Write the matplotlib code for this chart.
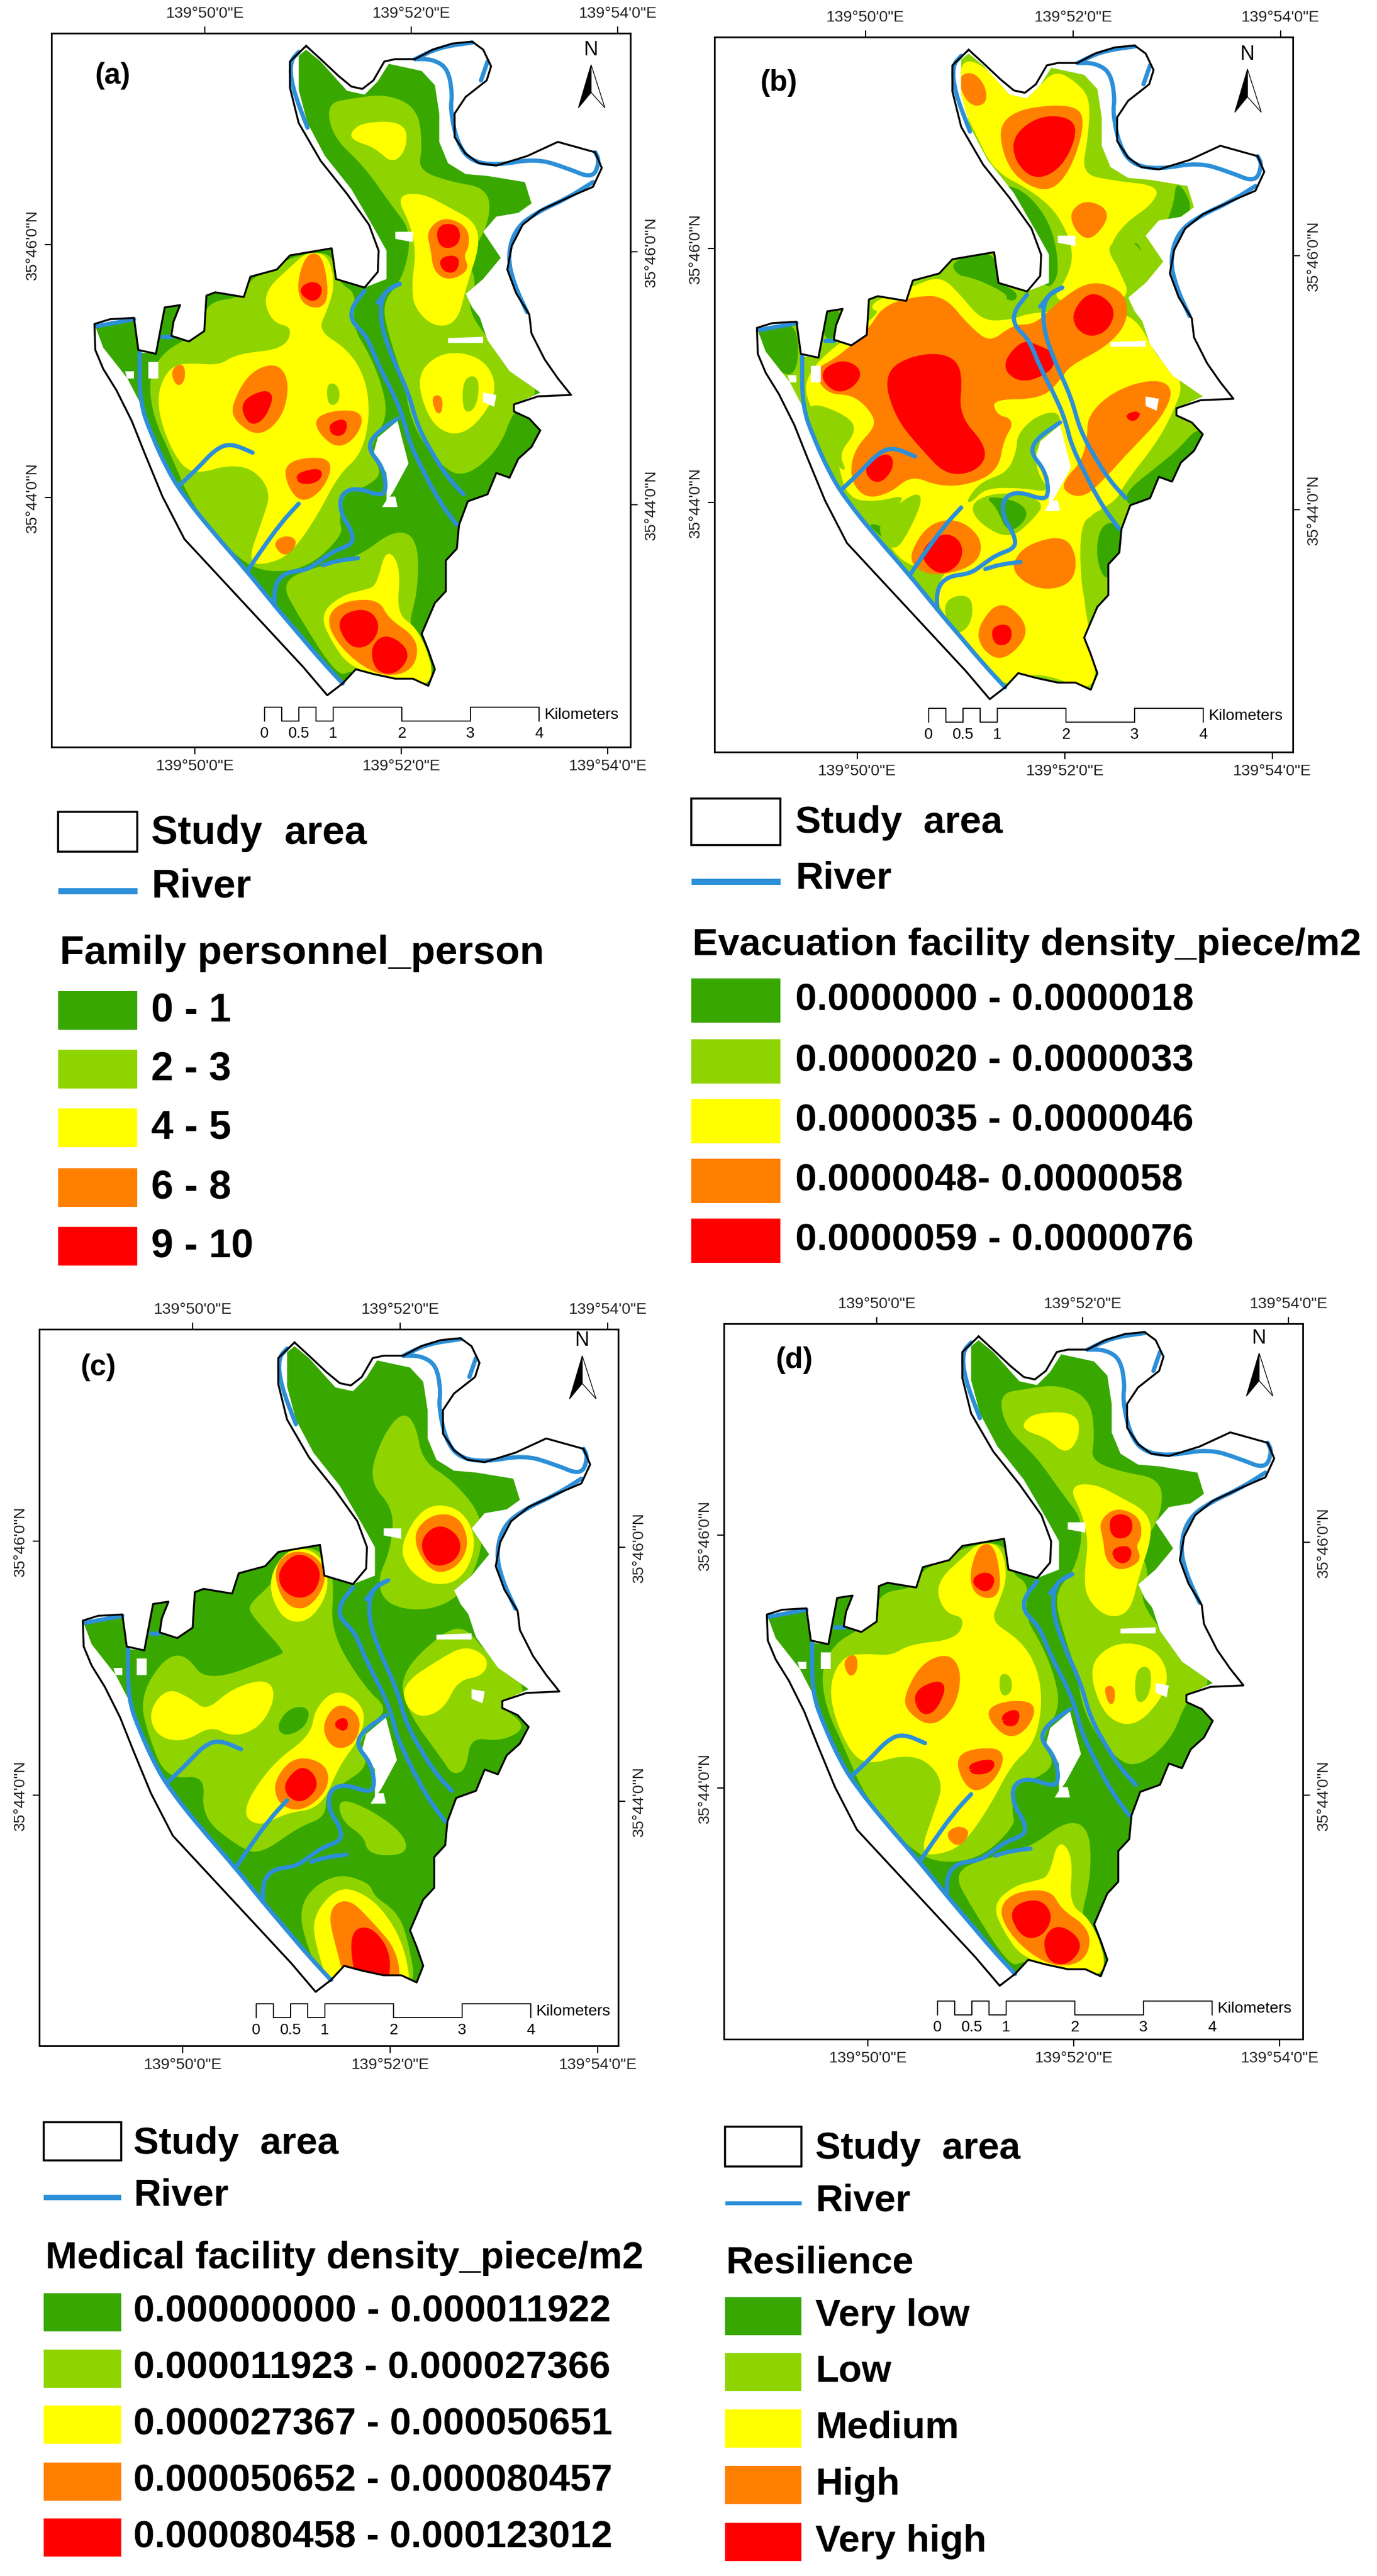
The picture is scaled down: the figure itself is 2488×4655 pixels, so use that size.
import matplotlib
matplotlib.use('Agg')
import matplotlib.pyplot as plt
from matplotlib.patches import Polygon, Rectangle, PathPatch
from matplotlib.path import Path

plt.rcParams['font.family'] = ['Liberation Sans', 'DejaVu Sans']

W, H = 2488, 4655
DPI = 100

C_VLOW = '#38A800'
C_LOW = '#8FD400'
C_MED = '#FFFF00'
C_HIGH = '#FF8000'
C_VHIGH = '#FF0000'
C_RIVER = '#2C8FD8'
CLASS_COLOURS = [C_VLOW, C_LOW, C_MED, C_HIGH, C_VHIGH]
# curves sit inside their traced corners, so the hotter classes get a thicker edge
EDGE_LW = {C_VLOW: 2, C_LOW: 2, C_MED: 3, C_HIGH: 5, C_VHIGH: 8}

LON_TICKS = [50, 52, 54]
LAT_TICKS = [44, 46]
LON_LABELS = ['139°50\'0"E', '139°52\'0"E', '139°54\'0"E']
LAT_LABELS = ['35°44\'0"N', '35°46\'0"N']

SCALE_KM = [0, 0.25, 0.5, 0.75, 1, 2, 3, 4]
SCALE_LABELS = [(0, '0'), (0.5, '0.5'), (1, '1'), (2, '2'), (3, '3'), (4, '4')]

# study area outline, traced on panel (a)
OUTLINE = [(697,97),(730,125),(770,160),(800,183),(825,188),(850,170),(875,130),(900,125),(945,125),(985,105),(1030,92),
           (1075,88),(1100,105),(1118,140),(1108,170),(1060,205),(1035,240),(1035,290),(1060,325),(1090,345),(1130,350),
           (1200,330),(1270,300),(1355,322),(1370,355),(1350,395),(1300,415),(1230,445),(1190,475),(1165,520),(1155,570),
           (1175,620),(1205,665),(1210,705),(1240,760),(1270,800),(1300,835),(1225,838),(1170,855),(1170,870),(1205,885),
           (1230,910),(1210,945),(1180,970),(1160,1010),(1130,1000),(1110,1045),(1065,1060),(1045,1110),(1040,1160),
           (1015,1185),(1015,1250),(990,1275),(960,1340),(975,1375),(990,1415),(975,1450),(940,1435),(900,1435),(850,1425),
           (810,1415),(780,1445),(745,1470),(690,1410),(620,1340),(560,1280),(490,1210),(420,1140),(370,1050),(330,960),
           (300,890),(265,825),(235,780),(217,740),(215,685),(250,675),(305,672),(315,740),(355,748),(375,650),(410,645),
           (395,680),(390,710),(430,722),(465,700),(470,625),(490,618),(555,628),(570,585),(630,570),(660,540),(755,525),
           (765,590),(830,608),(860,575),(862,530),(840,475),(790,410),(730,340),(680,260),(660,185),(660,130),(697,97)]

# part of the area that has raster cover
LAND = [(680,118),(697,105),(730,130),(790,192),(830,200),(860,172),(885,135),(960,150),(990,180),(1000,240),(1000,300),
        (1020,345),(1060,368),(1110,372),(1195,385),(1210,430),(1180,450),(1130,458),(1100,490),(1140,545),(1100,590),
        (1062,620),(1085,650),(1110,720),(1160,785),(1230,830),(1170,855),(1170,870),(1205,885),(1230,910),(1210,945),
        (1180,970),(1160,1010),(1130,1000),(1110,1045),(1065,1060),(1045,1110),(1040,1160),(1015,1185),(1015,1250),
        (990,1275),(960,1340),(975,1375),(990,1415),(975,1450),(940,1435),(900,1435),(850,1425),(810,1415),(780,1445),
        (730,1390),(680,1335),(625,1275),(560,1205),(480,1120),(420,1050),(385,1000),(345,920),(318,850),(290,800),
        (235,735),(217,690),(305,672),(315,745),(355,748),(375,650),(410,645),(395,680),(390,710),(430,722),(465,700),
        (470,625),(490,618),(555,628),(570,585),(630,570),(660,540),(755,525),(765,590),(830,608),(880,590),(880,530),
        (850,480),(800,400),(740,330),(700,260),(680,190)]

HOLES = [[(860,925),(905,890),(930,980),(895,1040),(880,1060),(880,1000),(850,960)],
         [(900,490),(940,490),(940,512),(900,505)],
         [(338,765),(360,765),(360,800),(338,800)],
         [(1020,715),(1100,712),(1100,725),(1020,725)],
         [(1060,620),(1090,620),(1100,680),(1075,650)],
         [(1100,830),(1130,835),(1125,860),(1100,850)],
         [(285,785),(305,785),(305,800),(290,800)],
         [(885,1050),(900,1050),(905,1072),(870,1072)]]

RIVERS = [[(318,745),(318,850),(345,920),(385,1000),(420,1050),(480,1120),(560,1205),(625,1280),(680,1340),(730,1395),(780,1445)],
          [(410,1025),(450,990),(490,950),(525,937),(575,957)],
          [(565,1205),(590,1170),(640,1105),(680,1065)],
          [(625,1280),(625,1235),(650,1210),(700,1205),(730,1185),(760,1165),(805,1150),(800,1120),(775,1085),(775,1045),(810,1030),(870,1050),(880,1030),(870,985),(838,950),(850,920),(905,885)],
          [(735,1195),(770,1185),(815,1180)],
          [(830,615),(800,650),(800,680),(835,710),(860,770),(900,840),(920,890),(930,930),(960,990),(1000,1060),(1040,1110)],
          [(910,600),(870,620),(865,680),(890,750),(930,830),(950,900),(985,960),(1020,1010),(1055,1045)],
          [(860,640),(885,610),(910,600)],
          [(680,110),(660,130),(665,185),(700,270)],
          [(945,125),(985,125),(1020,145),(1030,200),(1025,230),(1040,300),(1070,340),(1130,350),(1220,335),(1290,355),(1350,378),(1365,340),(1355,322)],
          [(945,125),(1000,100),(1075,90)],
          [(1110,130),(1095,170)],
          [(1350,385),(1290,420),(1230,445),(1175,480),(1155,540),(1170,600),(1200,660)],
          [(218,690),(305,675)],
          [(370,712),(390,712)]]

# family personnel classes, also close to the resilience map
A_LOW = [[(745,220),(800,210),(880,200),(950,230),(960,310),(950,360),(1020,385),(1115,400),(1110,480),(1060,545),(1085,600),(1060,650),(1110,720),(1180,790),(1230,830),(1170,860),(1135,950),(1055,1010),(1000,980),(940,900),(920,800),(890,720),(870,640),(920,590),(940,490),(890,430),(830,350),(760,290)],
         [(340,800),(370,750),(410,725),(465,700),(470,640),(555,630),(570,590),(630,570),(660,545),(755,530),(770,600),(810,620),(800,690),(840,750),(870,820),(880,880),(850,930),(840,960),(870,1000),(830,1030),(780,1040),(770,1100),(780,1130),(700,1200),(600,1210),(530,1170),(440,1070),(390,960),(350,880)],
         [(640,1230),(720,1200),(815,1180),(900,1120),(950,1140),(950,1250),(925,1330),(970,1380),(985,1415),(960,1450),(860,1425),(800,1415),(770,1430),(680,1300)]]
A_MED = [[(800,280),(830,260),(920,260),(925,310),(895,345),(855,310),(805,295)],
         [(905,415),(960,410),(1020,440),(1080,470),(1090,520),(1060,600),(1040,680),(990,690),(945,650),(940,600),(950,530),(935,470)],
         [(950,800),(990,755),(1050,745),(1110,770),(1130,830),(1080,900),(1030,920),(980,890)],
         [(360,830),(390,775),(440,770),(500,775),(540,750),(650,740),(670,690),(620,680),(600,620),(670,560),(700,535),(745,540),(760,600),(745,650),(720,700),(790,740),(830,800),(840,880),(820,960),(770,1000),(720,1090),(660,1170),(610,1190),(565,1190),(600,1100),(620,1040),(580,990),(520,980),(450,1000),(410,980),(370,900)],
         [(830,1250),(860,1240),(880,1160),(910,1200),(900,1300),(950,1330),(985,1415),(970,1450),(900,1435),(800,1410),(760,1360),(730,1300),(780,1260)]]
A_LOW_TOP = [[(745,810),(770,815),(772,850),(748,858)],
             [(1055,800),(1090,795),(1085,860),(1055,875)]]
A_HIGH = [[(680,600),(700,540),(730,540),(745,620),(730,650),(690,640)],
          [(530,860),(570,790),(630,770),(655,810),(640,880),(590,920),(540,890)],
          [(720,885),(770,870),(825,875),(810,920),(770,945),(730,915)],
          [(650,985),(700,970),(755,975),(735,1030),(690,1060),(660,1030)],
          [(392,785),(415,770),(418,800),(405,815)],
          [(625,1150),(650,1135),(675,1145),(650,1175)],
          [(745,1310),(780,1275),(860,1270),(880,1310),(945,1350),(945,1400),(910,1425),(850,1420),(780,1370)],
          [(975,490),(1010,462),(1060,480),(1065,520),(1050,540),(1065,570),(1020,590),(990,570),(985,525)],
          [(985,840),(1005,840),(1000,880)]]
A_VHIGH = [[(685,615),(710,600),(730,610),(715,635)],
           [(552,850),(620,825),(600,880),(570,895)],
           [(755,900),(785,890),(780,915),(760,915)],
           [(680,1005),(730,995),(720,1015),(685,1018)],
           [(770,1310),(830,1290),(860,1320),(840,1360),(800,1365)],
           [(850,1370),(880,1345),(930,1380),(900,1420),(860,1415)],
           [(1000,480),(1040,480),(1040,515),(1005,520)],
           [(1005,550),(1040,545),(1035,570),(1015,570)]]

# evacuation facility classes, traced on panel (b)
B_VLOW = [[(225,690),(305,680),(315,745),(305,790),(280,790),(235,750)],
          [(370,660),(410,655),(395,715),(370,715)],
          [(640,565),(680,540),(740,535),(750,600),(790,620),(780,640),(700,600)],
          [(1040,500),(1070,555),(1085,590),(1030,570)],
          [(1135,380),(1170,440),(1140,470),(1110,480),(1130,430)],
          [(740,390),(800,400),(860,470),(880,570),(860,610),(840,590),(830,500)],
          [(1180,905),(1190,930),(1130,1010),(1080,1060),(1030,1070),(1025,1040),(1090,990),(1140,950)],
          [(970,1110),(1010,1105),(1015,1165),(985,1235),(960,1180)],
          [(465,1105),(510,1120),(520,1150),(490,1130)],
          [(720,1050),(790,1060),(815,1090),(770,1130),(745,1070)]]
B_MED = [[(665,135),(700,130),(770,190),(830,195),(870,150),(915,175),(945,210),(940,290),(925,370),(1000,385),(1095,395),(1080,430),(1020,470),(985,520),(1000,560),(1040,640),(860,640),(900,590),(915,530),(880,450),(820,400),(740,360),(700,280),(670,220)],
         [(340,790),(380,745),(500,660),(470,650),(500,630),(560,610),(620,585),(660,620),(710,680),(770,680),(830,660),(1000,660),(1050,680),(1090,760),(1150,805),(1120,880),(1085,940),(1020,1020),(1000,1060),(920,1100),(930,1280),(960,1410),(945,1460),(860,1425),(800,1425),(760,1450),(720,1400),(620,1290),(615,1230),(680,1170),(560,1210),(490,1120),(560,1040),(480,1060),(420,1050),(400,960),(360,890),(330,830)]]
B_LOW = [[(340,850),(420,880),(440,910),(400,960),(420,1000),(385,970),(340,890)],
         [(480,1110),(560,1045),(585,1050),(555,1120),(520,1170)],
         [(790,920),(830,880),(880,870),(880,910),(825,945),(830,1000),(860,1040),(800,1030),(720,1030),(690,1060),(680,1060),(710,1020),(770,1000),(790,950)],
         [(690,1060),(760,1040),(850,1060),(820,1100),(770,1140),(700,1100)],
         [(925,1100),(970,1090),(1010,1105),(985,1235),(960,1290),(930,1270)],
         [(625,1270),(690,1255),(690,1320),(650,1345)],
         [(640,580),(700,590),(780,630),(730,640),(680,600),(640,590)],
         [(1000,510),(1030,500),(1090,570),(1080,600),(1020,580),(985,530)]]
B_VLOW_TOP = [[(720,1050),(790,1060),(815,1090),(770,1130),(745,1070)],
              [(970,1110),(1010,1105),(1015,1165),(985,1235),(960,1180)]]
B_HIGH = [[(665,165),(690,155),(715,180),(720,215),(695,222),(675,200)],
          [(755,260),(810,230),(920,225),(930,270),(900,360),(855,405),(790,375),(760,320)],
          [(905,450),(940,425),(990,450),(950,505),(920,490)],
          [(350,785),(400,760),(470,700),(500,650),(570,630),(630,630),(680,690),(730,730),(780,690),(830,690),(880,640),(950,595),(1020,620),(1025,680),(980,730),(900,770),(880,800),(840,840),(730,840),(740,880),(780,890),(755,930),(745,990),(690,1020),(620,1025),(560,1000),(510,1040),(460,1050),(430,1010),(440,950),(490,900),(470,860),(430,830),(380,830)],
          [(945,880),(1000,830),(1080,805),(1125,820),(1100,880),(1030,950),(975,1010),(930,1050),(890,1035),(900,1010),(930,980),(945,930)],
          [(560,1170),(600,1110),(660,1100),(710,1140),(700,1190),(620,1215),(570,1200)],
          [(780,1195),(810,1155),(890,1135),(915,1180),(905,1230),(850,1245),(800,1225)],
          [(705,1330),(750,1272),(800,1310),(805,1350),(755,1395),(715,1370)]]
B_VHIGH = [[(785,290),(840,250),(905,255),(910,290),(880,350),(830,375),(790,340)],
           [(365,790),(410,765),(448,785),(430,815),(395,825)],
           [(505,790),(570,755),(640,755),(665,790),(655,880),(720,950),(700,990),(640,1000),(590,950),(530,880)],
           [(760,775),(800,725),(830,735),(865,750),(860,780),(800,805)],
           [(915,660),(950,620),(995,650),(985,690),(950,708),(920,690)],
           [(460,990),(510,960),(515,990),(485,1020)],
           [(580,1170),(630,1130),(665,1150),(660,1190),(620,1212)],
           [(738,1330),(770,1325),(770,1355),(745,1360)],
           [(1030,880),(1050,875),(1040,885)]]

# medical facility classes, traced on panel (c)
C_LOW_Z = [[(915,365),(945,390),(960,470),(1030,510),(1100,590),(1090,680),(1040,760),(960,785),(880,770),(860,720),(890,660),(900,570),(840,510),(870,420)],
           [(910,920),(1010,830),(1060,820),(1110,880),(1160,910),(1200,960),(1140,990),(1200,1030),(1140,1060),(1070,1050),(1060,1120),(1030,1130),(1010,1100),(930,1000)],
           [(570,770),(620,730),(680,650),(735,660),(760,720),(750,830),(830,950),(880,990),(850,1020),(810,1070),(840,1110),(780,1150),(740,1170),(740,1220),(680,1240),(590,1300),(540,1280),(460,1220),(470,1130),(380,1140),(340,1050),(320,970),(370,890),(420,875),(470,940),(640,880),(650,870),(570,790)],
           [(680,1400),(760,1340),(840,1360),(850,1390),(900,1420),(925,1470),(950,1600),(760,1600),(700,1500)],
           [(770,1180),(850,1210),(920,1260),(925,1300),(840,1300),(830,1260),(780,1230)]]
C_VLOW_TOP = [[(630,1030),(660,990),(705,990),(695,1030),(650,1050)]]
C_MED_Z = [[(340,1000),(380,950),(430,970),(470,1000),(530,950),(610,930),(625,970),(590,1030),(530,1050),(480,1025),(420,1060),(360,1050)],
           [(610,720),(660,650),(730,665),(750,740),(700,810),(640,800)],
           [(915,640),(970,560),(1050,570),(1085,640),(1050,720),(980,730),(925,690)],
           [(920,940),(1000,890),(1060,860),(1110,885),(1100,920),(1040,930),(1010,990),(960,1010),(925,985)],
           [(550,1210),(620,1110),(710,1050),(720,990),(770,950),(830,990),(820,1050),(770,1110),(730,1200),(650,1210),(590,1240)],
           [(715,1430),(770,1370),(830,1385),(880,1430),(920,1500),(935,1600),(760,1600),(720,1490)]]
C_HIGH_Z = [[(625,700),(660,660),(720,670),(742,720),(700,780),(650,770)],
            [(940,630),(980,585),(1040,585),(1065,640),(1040,690),(985,705)],
            [(735,1030),(770,980),(820,1010),(805,1065),(760,1075)],
            [(625,1150),(670,1095),(740,1110),(745,1160),(690,1205),(640,1195)],
            [(750,1420),(790,1395),(840,1440),(905,1510),(905,1600),(800,1600),(770,1500)]]
C_VHIGH_Z = [[(640,700),(680,665),(725,695),(715,740),(680,755),(645,735)],
             [(960,640),(1000,605),(1045,635),(1035,675),(985,688)],
             [(765,1025),(785,1015),(785,1035)],
             [(653,1150),(690,1115),(722,1150),(690,1185),(660,1175)],
             [(800,1470),(840,1455),(885,1510),(875,1585),(820,1585)]]

FA = (1.26, 0, 0)
FB = (1.199, 1180, 0)
FC = (1.26, 0, 2240)

PANELS = [
    dict(tag='(a)', frame=(93, 60, 1139, 1350), bottom=(352, 725), top=(370, 742), left=(899, 442), right=(912, 453),
         shift=(0, 0), tag_xy=(171, 137), north=(1068, 92), scale=(478, 1278),
         base=C_VLOW, layers=[(A_LOW, C_LOW, FA), (A_MED, C_MED, FA), (A_LOW_TOP, C_LOW, FA), (A_HIGH, C_HIGH, FA), (A_VHIGH, C_VHIGH, FA)]),
    dict(tag='(b)', frame=(1291, 67, 2336, 1359), bottom=(1549, 1924), top=(1564, 1937), left=(908, 449), right=(921, 462),
         shift=(1197, 7), tag_xy=(1373, 150), north=(2254, 100), scale=(1678, 1280),
         base=C_LOW, layers=[(B_VLOW, C_VLOW, FB), (B_MED, C_MED, FB), (B_LOW, C_LOW, FB), (B_VLOW_TOP, C_VLOW, FB), (B_HIGH, C_HIGH, FB), (B_VHIGH, C_VHIGH, FB)]),
    dict(tag='(c)', frame=(71, 2402, 1117, 3697), bottom=(330, 705), top=(348, 720), left=(3244, 2785), right=(3255, 2797),
         shift=(-21, 2343), tag_xy=(145, 2471), north=(1052, 2425), scale=(463, 3621),
         base=C_VLOW, layers=[(C_LOW_Z, C_LOW, FC), (C_VLOW_TOP, C_VLOW, FC), (C_MED_Z, C_MED, FC), (C_HIGH_Z, C_HIGH, FC), (C_VHIGH_Z, C_VHIGH, FC)]),
    dict(tag='(d)', frame=(1308, 2392, 2354, 3685), bottom=(1568, 1940), top=(1584, 1957), left=(3231, 2774), right=(3244, 2787),
         shift=(1215, 2332), tag_xy=(1401, 2458), north=(2275, 2420), scale=(1694, 3616),
         base=C_VLOW, layers=[(A_LOW, C_LOW, None), (A_MED, C_MED, None), (A_LOW_TOP, C_LOW, None), (A_HIGH, C_HIGH, None), (A_VHIGH, C_VHIGH, None)]),
]

LEGENDS = [
    dict(box=(105, 1467, 248, 1539), study=(273, 1506), river_y=1610, river_lw=8, river_text=1602, title='Family personnel_person',
         title_xy=(108, 1742), size=52, sw_x=(105, 248), sw_h=70, sw_y=[1826, 1932, 2038, 2146, 2252], text_x=273,
         labels=['0 - 1', '2 - 3', '4 - 5', '6 - 8', '9 - 10']),
    dict(box=(1249, 1443, 1410, 1527), study=(1437, 1487), river_y=1593, river_lw=8, river_text=1588, title='Evacuation facility density_piece/m2',
         title_xy=(1251, 1726), size=50, sw_x=(1249, 1410), sw_h=80, sw_y=[1808, 1918, 2026, 2134, 2242], text_x=1437,
         labels=['0.0000000 - 0.0000018', '0.0000020 - 0.0000033', '0.0000035 - 0.0000046', '0.0000048- 0.0000058', '0.0000059 - 0.0000076']),
    dict(box=(79, 3835, 219, 3904), study=(241, 3874), river_y=3971, river_lw=7, river_text=3968, title='Medical facility density_piece/m2',
         title_xy=(82, 4099), size=49.5, sw_x=(79, 219), sw_h=69, sw_y=[4178, 4280, 4381, 4484, 4585], text_x=241,
         labels=['0.000000000 - 0.000011922', '0.000011923 - 0.000027366', '0.000027367 - 0.000050651', '0.000050652 - 0.000080457', '0.000080458 - 0.000123012']),
    dict(box=(1310, 3843, 1448, 3915), study=(1473, 3883), river_y=3981, river_lw=5, river_text=3978, title='Resilience',
         title_xy=(1311, 4108), size=49.5, sw_x=(1310, 1448), sw_h=69, sw_y=[4185, 4286, 4388, 4490, 4593], text_x=1473,
         labels=['Very low', 'Low', 'Medium', 'High', 'Very high']),
]


def fig_axes(fig, frame):
    x0, y0, x1, y1 = frame
    return fig.add_axes([x0 / W, 1 - y1 / H, (x1 - x0) / W, (y1 - y0) / H])


def mid(a, b):
    return ((a[0] + b[0]) / 2, (a[1] + b[1]) / 2)


def blob_path(pts):
    # closed quadratic curve through the edge midpoints
    n = len(pts)
    verts = [mid(pts[-1], pts[0])]
    codes = [Path.MOVETO]
    for i in range(n):
        verts += [pts[i], mid(pts[i], pts[(i + 1) % n])]
        codes += [Path.CURVE3, Path.CURVE3]
    return Path(verts, codes)


def stream_path(pts):
    verts = [pts[0]]
    codes = [Path.MOVETO]
    for i in range(1, len(pts) - 1):
        verts += [mid(pts[i - 1], pts[i]), pts[i], mid(pts[i], pts[i + 1])]
        codes += [Path.LINETO, Path.CURVE3, Path.CURVE3]
    verts.append(pts[-1])
    codes.append(Path.LINETO)
    return Path(verts, codes)


def draw_panel(fig, p):
    ax = fig_axes(fig, p['frame'])
    x0, y0, x1, y1 = p['frame']
    b50, b52 = p['bottom']
    l44, l46 = p['left']
    per_lon = (b52 - b50) / 2
    per_lat = (l44 - l46) / 2

    def lon(px):
        return 50 + (px - b50) / per_lon

    def lat(py):
        return 44 + (l44 - py) / per_lat

    def shared(pts):
        # shape traced on panel (a), moved to this panel
        return [(lon(x / 1.26 + p['shift'][0]), lat(y / 1.17 + p['shift'][1])) for x, y in pts]

    def traced(pts, f):
        if f is None:
            return shared(pts)
        return [(lon(x / f[0] + f[1]), lat(y / 1.17 + f[2])) for x, y in pts]

    ax.set_xlim(lon(x0), lon(x1))
    ax.set_ylim(lat(y1), lat(y0))

    land = Polygon(shared(LAND), closed=True, facecolor=p['base'], edgecolor='none', zorder=1)
    ax.add_patch(land)
    for shapes, colour, f in p['layers']:
        for pts in shapes:
            zone = PathPatch(blob_path(traced(pts, f)), facecolor=colour, edgecolor=colour, lw=EDGE_LW[colour], zorder=2)
            ax.add_patch(zone)
            zone.set_clip_path(land)
    for pts in HOLES:
        ax.add_patch(Polygon(shared(pts), closed=True, facecolor='white', edgecolor='none', zorder=3))
    for pts in RIVERS:
        ax.add_patch(PathPatch(stream_path(shared(pts)), fill=False, edgecolor=C_RIVER, lw=5.5, capstyle='round', zorder=4))
    xs, ys = zip(*shared(OUTLINE))
    ax.plot(xs, ys, color='black', lw=2.5, zorder=5)

    # ticks
    ax.set_xticks(LON_TICKS, LON_LABELS)
    ax.set_yticks(LAT_TICKS, LAT_LABELS)
    ax.tick_params(axis='x', length=9, width=1.6, labelsize=20.5, pad=7, labelcolor='#222222')
    ax.tick_params(axis='y', length=9, width=1.6, labelsize=20.5, pad=6, labelrotation=90, labelcolor='#222222')
    for t in ax.get_yticklabels():
        t.set_va('center')
    top_shift = (p['top'][0] - b50) / per_lon
    right_shift = (p['right'][0] - l44) / per_lat
    top = ax.secondary_xaxis('top', functions=(lambda v: v - top_shift, lambda v: v + top_shift))
    top.set_xticks(LON_TICKS, LON_LABELS)
    top.tick_params(length=9, width=1.6, labelsize=20.5, pad=7, labelcolor='#222222')
    right = ax.secondary_yaxis('right', functions=(lambda v: v + right_shift, lambda v: v - right_shift))
    right.set_yticks(LAT_TICKS, LAT_LABELS)
    right.tick_params(length=9, width=1.6, labelsize=20.5, pad=9, labelrotation=90, labelcolor='#222222')
    for t in right.get_yticklabels():
        t.set_va('center')
    for s in list(ax.spines.values()) + list(top.spines.values()) + list(right.spines.values()):
        s.set_linewidth(2.2)

    ax.text(lon(p['tag_xy'][0]), lat(p['tag_xy'][1]), p['tag'], fontsize=38, fontweight='bold', va='center', ha='left', zorder=6)

    # north arrow
    nx, ny = p['north']
    ax.text(lon(nx), lat(ny - 2), 'N', fontsize=26, ha='center', va='center', zorder=6)
    tip = (lon(nx), lat(ny + 25))
    notch = (lon(nx), lat(ny + 75))
    ax.add_patch(Polygon([tip, (lon(nx - 23), lat(ny + 103)), notch], closed=True, facecolor='black', edgecolor='black', lw=1, zorder=6))
    ax.add_patch(Polygon([tip, (lon(nx + 25), lat(ny + 103)), notch], closed=True, facecolor='white', edgecolor='black', lw=1, zorder=6))

    # scale bar, 1 km is about 124 px on every panel
    sx, sy = p['scale']
    km_x = [lon(sx + km * 124) for km in SCALE_KM]
    up, down = lat(sy), lat(sy + 25)
    step_x, step_y = [km_x[0]], [down]
    for i in range(len(km_x) - 1):
        level = up if i % 2 == 0 else down
        step_x += [km_x[i], km_x[i + 1]]
        step_y += [level, level]
    step_x.append(km_x[-1])
    step_y.append(down)
    ax.plot(step_x, step_y, color='black', lw=1.4, zorder=6)
    for km, label in SCALE_LABELS:
        ax.text(lon(sx + km * 124), lat(sy + 48), label, fontsize=20, ha='center', va='center', zorder=6)
    ax.text(lon(sx + 4 * 124 + 10), lat(sy + 14), 'Kilometers', fontsize=20.5, ha='left', va='center', zorder=6)


def draw_legend(bg, leg):
    bx0, by0, bx1, by1 = leg['box']
    bg.add_patch(Rectangle((bx0, by0), bx1 - bx0, by1 - by0, facecolor='white', edgecolor='black', lw=2.6))
    bg.text(leg['study'][0], leg['study'][1], 'Study  area', fontsize=leg['size'], fontweight='bold', va='center')
    bg.plot([bx0, bx1], [leg['river_y'], leg['river_y']], color=C_RIVER, lw=leg['river_lw'], solid_capstyle='butt')
    bg.text(leg['study'][0], leg['river_text'], 'River', fontsize=leg['size'], fontweight='bold', va='center')
    bg.text(leg['title_xy'][0], leg['title_xy'][1], leg['title'], fontsize=leg['size'], fontweight='bold', va='baseline')
    for cy, colour, label in zip(leg['sw_y'], CLASS_COLOURS, leg['labels']):
        sx0, sx1 = leg['sw_x']
        bg.add_patch(Rectangle((sx0, cy - leg['sw_h'] / 2), sx1 - sx0, leg['sw_h'], facecolor=colour, edgecolor='none'))
        bg.text(leg['text_x'], cy, label, fontsize=leg['size'], fontweight='bold', va='center')


fig = plt.figure(figsize=(W / DPI, H / DPI), dpi=DPI, facecolor='white')

# legends sit on a full figure layer measured in pixels
bg = fig.add_axes([0, 0, 1, 1])
bg.set_xlim(0, W)
bg.set_ylim(H, 0)
bg.axis('off')
for leg in LEGENDS:
    draw_legend(bg, leg)

for p in PANELS:
    draw_panel(fig, p)

fig.savefig('out.png', dpi=DPI)
